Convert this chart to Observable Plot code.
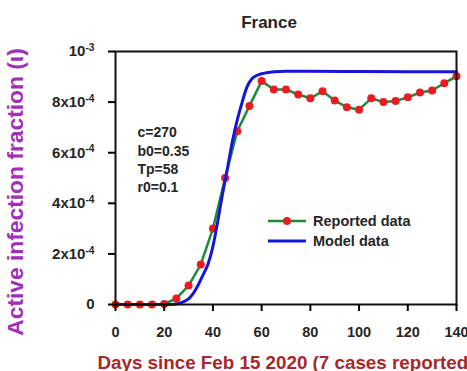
<!DOCTYPE html>
<html>
<head>
<meta charset="utf-8">
<script src="https://cdn.jsdelivr.net/npm/d3@7"></script>
<script src="https://cdn.jsdelivr.net/npm/@observablehq/plot@0.6"></script>
<style>
  html, body { margin: 0; padding: 0; background: #fff; }
  #chart svg { display: block; }
</style>
</head>
<body>
<div id="chart"></div>
<script>
const title = "France";
const xLabel = "Days since Feb 15 2020 (7 cases reported)";
const yLabel = "Active infection fraction (ι)";
const params = ["c=270", "b0=0.35", "Tp=58", "r0=0.1"];
const legendLabels = ["Reported data", "Model data"];

const xTicks = [0, 20, 40, 60, 80, 100, 120, 140];
const yTicks = [0, 2e-4, 4e-4, 6e-4, 8e-4, 1e-3];
const yTickLabels = ["0", "2x10^-4", "4x10^-4", "6x10^-4", "8x10^-4", "10^-3"];

const reportedDays = [0, 5, 10, 15, 20, 25, 30, 35, 40, 45, 50, 55, 60, 65, 70, 75, 80, 85, 90, 95, 100, 105, 110, 115, 120, 125, 130, 135, 140];
const reportedValues = [0, 0, 0, 0, 2e-6, 2.4e-5, 7.5e-5, 1.58e-4, 3.0e-4, 5.0e-4, 6.85e-4, 7.85e-4, 8.83e-4, 8.5e-4, 8.5e-4, 8.3e-4, 8.15e-4, 8.43e-4, 8.06e-4, 7.8e-4, 7.7e-4, 8.15e-4, 8.0e-4, 8.04e-4, 8.19e-4, 8.38e-4, 8.46e-4, 8.75e-4, 9.02e-4];

const modelDays = [0, 10, 20, 24, 26, 28, 30, 32, 34, 36, 38, 40, 42, 44, 46, 48, 50, 52, 54, 56, 58, 60, 62, 65, 70, 80, 100, 120, 140];
const modelValues = [0, 0, 0, 1e-6, 4e-6, 1.1e-5, 2.2e-5, 4.5e-5, 7.8e-5, 1.18e-4, 1.6e-4, 2.3e-4, 3.3e-4, 4.4e-4, 5.4e-4, 6.45e-4, 7.3e-4, 8.0e-4, 8.6e-4, 8.92e-4, 9.05e-4, 9.12e-4, 9.16e-4, 9.2e-4, 9.22e-4, 9.22e-4, 9.21e-4, 9.2e-4, 9.2e-4];

const colors = { reportedLine: "#1e8a3a", reportedDot: "#ea1c22", model: "#1616d6", yLabel: "#a030b8", xLabel: "#a8282a", text: "#262626" };

const reported = reportedDays.map((d, i) => ({ day: d, value: reportedValues[i] }));
const model = modelDays.map((d, i) => ({ day: d, value: modelValues[i] }));

const yFmt = d => yTickLabels[yTicks.findIndex(t => Math.abs(t - d) < 1e-12)];

const svg = Plot.plot({
  width: 467,
  height: 371,
  marginLeft: 115,
  marginRight: 11,
  marginTop: 51,
  marginBottom: 67,
  style: { fontFamily: "'Liberation Sans', Arial, sans-serif", background: "#fff", overflow: "hidden" },
  x: { domain: [0, 140] },
  y: { domain: [0, 1e-3] },
  marks: [
    Plot.line(reported, { x: "day", y: "value", stroke: colors.reportedLine, strokeWidth: 2.5 }),
    Plot.dot(reported, { x: "day", y: "value", r: 4, fill: colors.reportedDot, stroke: "none" }),
    Plot.line(model, { x: "day", y: "value", stroke: colors.model, strokeWidth: 3, curve: "monotone-x" }),
    Plot.frame({ stroke: "#111", strokeWidth: 2 }),
    Plot.axisX({ ticks: xTicks, tickSize: 7, tickPadding: 15, fontSize: 14.5, fontWeight: "bold", fill: colors.text, strokeWidth: 2, tickFormat: d => String(d), label: null }),
    Plot.axisY({ ticks: yTicks, tickSize: 7, tickPadding: 14, fontSize: 15, fontWeight: "bold", fill: colors.text, strokeWidth: 2, tickFormat: yFmt, label: null }),
    Plot.text([title], { text: d => d, frameAnchor: "top", dx: -17, dy: -29, textAnchor: "middle", lineAnchor: "middle", fontSize: 17, fontWeight: "bold", fill: colors.text }),
    Plot.text([params.join("\n")], { text: d => d, frameAnchor: "top-left", dx: 22, dy: 73, textAnchor: "start", lineAnchor: "top", lineHeight: 1.3, fontSize: 14, fontWeight: "bold", fill: colors.text }),
    Plot.text([yLabel], { text: d => d, frameAnchor: "left", dx: -100, dy: 14, rotate: -90, textAnchor: "middle", lineAnchor: "middle", fontSize: 22.8, fontWeight: "bold", fill: colors.yLabel }),
    Plot.text([xLabel], { text: d => d, frameAnchor: "bottom-left", dx: -18, dy: 58, textAnchor: "start", lineAnchor: "middle", fontSize: 18.8, fontWeight: "bold", fill: colors.xLabel })
  ]
});

// superscripts for y tick labels
d3.select(svg).selectAll('g[aria-label="y-axis tick label"] text').each(function () {
  const t = d3.select(this);
  const s = t.text();
  const m = s.match(/^(.*)\^(.*)$/);
  if (m) {
    t.text(null);
    t.append("tspan").text(m[1]);
    t.append("tspan").attr("dy", "-0.5em").attr("font-size", "68%").text(m[2]);
  }
});

// legend
const lg = d3.select(svg).append("g")
  .attr("font-family", "'Liberation Sans', Arial, sans-serif")
  .attr("text-anchor", "start");
const legendItems = [
  { label: legendLabels[0], stroke: colors.reportedLine, dot: true, w: 2.5 },
  { label: legendLabels[1], stroke: colors.model, dot: false, w: 3 }
];
legendItems.forEach((it, i) => {
  const y = 221 + i * 20;
  lg.append("line").attr("x1", 268).attr("x2", 306).attr("y1", y).attr("y2", y)
    .attr("stroke", it.stroke).attr("stroke-width", it.w);
  if (it.dot) lg.append("circle").attr("cx", 287).attr("cy", y).attr("r", 4).attr("fill", colors.reportedDot);
  lg.append("text").attr("x", 313).attr("y", y).attr("dy", "0.35em").attr("text-anchor", "start")
    .attr("font-size", 14.5).attr("font-weight", "bold").attr("fill", colors.text).text(it.label);
});

document.getElementById("chart").appendChild(svg);
</script>
</body>
</html>
